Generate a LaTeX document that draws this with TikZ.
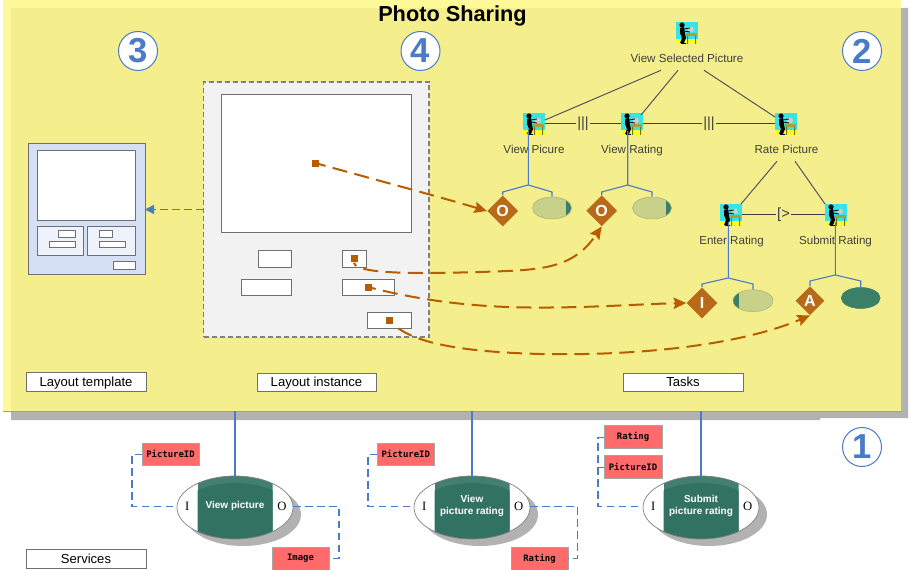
\documentclass[tikz,border=0pt]{standalone}
\usepackage{fontspec}
\setmainfont{Liberation Sans}
\newfontfamily\monof{DejaVu Sans Mono}
\newfontfamily\serf{Liberation Serif}
\usetikzlibrary{shapes.geometric,arrows.meta}
\newdimen\px \px=0.75pt
\definecolor{panellight}{HTML}{FFFA99}
\definecolor{panelc}{HTML}{F4EE8C}
\definecolor{shadowc}{HTML}{B2B2B2}
\definecolor{bluec}{HTML}{4A7BC8}
\definecolor{orangec}{HTML}{B85C00}
\definecolor{diac}{HTML}{B86A18}
\definecolor{greenc}{HTML}{327263}
\definecolor{greenl}{HTML}{437F70}
\definecolor{olivec}{HTML}{C8D18A}
\definecolor{stripc}{HTML}{3A7F68}
\definecolor{redc}{HTML}{FF6B6B}
\definecolor{edgec}{HTML}{707070}
\definecolor{treec}{HTML}{55555F}
\definecolor{tmplc}{HTML}{D5E0F5}
\definecolor{tmplp}{HTML}{EEF3FB}
\definecolor{iconc}{HTML}{35E5E5}
\definecolor{icony}{HTML}{FFFF20}
\definecolor{deskc}{HTML}{A8A040}
\tikzset{
  sizefont/.style={font=\fontsize{#1}{#1}\selectfont},
  wbox/.style={draw=edgec,line width=1\px,fill=white},
  capbox/.style={draw=edgec,line width=1\px,fill=white,text height=8.2pt,text depth=0.8pt,sizefont=9.8},
  redbox/.style={draw=gray!70,line width=.8\px,fill=redc,font=\monof\bfseries\fontsize{6.7}{7}\selectfont},
  numc/.style={circle,draw=bluec,line width=1\px,fill=white,minimum size=39\px,inner sep=0pt,text=bluec,font=\bfseries\fontsize{26}{26}\selectfont},
  tasklab/.style={inner sep=0pt,text=black!75,text height=9\px,text depth=1\px,sizefont=8.7},
  treeline/.style={draw=treec,line width=1\px},
  opline/.style={draw=black!75,line width=1\px},
  oplab/.style={fill=panelc,inner sep=1pt,text=black!75,sizefont=11},
  bline/.style={draw=bluec,line width=1.1\px},
  dia/.style={diamond,aspect=1,fill=diac,text=white,inner sep=0pt,minimum size=31\px,font=\bfseries\fontsize{12}{12}\selectfont},
  oval/.style={ellipse,inner sep=0pt,minimum width=39\px,minimum height=22\px,draw=olivec!85!black,line width=.5\px,fill=olivec},
  dataflow/.style={draw=bluec,line width=1.3\px,dash pattern=on 5.5pt off 3.5pt},
  bind/.style={draw=orangec,line width=2\px,dash pattern=on 11.25pt off 5.6pt,-{Stealth[length=9.5pt,width=8.5pt,inset=1.5pt]}},
  srcsq/.style={fill=orangec,inner sep=0pt,minimum size=7\px},
  svc/.style={ellipse,draw=gray,line width=.7\px,fill=white,inner sep=0pt,minimum width=116\px,minimum height=63\px,
    path picture={
      \begin{scope}
      \clip ([xshift=-37.5\px]path picture bounding box.north) rectangle ([xshift=37.5\px]path picture bounding box.south);
      \fill[greenl] ([xshift=-37.5\px]path picture bounding box.north) rectangle ([xshift=37.5\px]path picture bounding box.south);
      \fill[greenc] ([yshift=-7\px]path picture bounding box.center) ellipse [x radius=58\px,y radius=31.5\px];
      \end{scope}}},
  svctext/.style={text=white,align=center,inner sep=0pt,font=\bfseries\fontsize{7.5}{9}\selectfont},
  iolab/.style={inner sep=0pt,font=\serf\fontsize{9.5}{10}\selectfont},
  iconbox/.style={fill=iconc,inner sep=0pt,minimum size=22\px}
}
\newcommand\bx[7]{%
  \pgfmathsetmacro\bxcx{(#3+#5)/2}\pgfmathsetmacro\bxcy{(#4+#6)/2}%
  \pgfmathsetmacro\bxw{#5-#3}\pgfmathsetmacro\bxh{#6-#4}%
  \node[#1,minimum width=\bxw\px,minimum height=\bxh\px,inner sep=0pt,outer sep=0pt] (#2) at (\bxcx,\bxcy) {#7};}
\newcommand\taskicon[3]{%
  \node[iconbox] (#1) at (#2,#3) {};
  \begin{scope}[shift={(#1.center)}]
    \fill[icony] (-11,6) rectangle (11,11);
    \fill[deskc] (-1,0) rectangle (10,3);
    \fill[deskc!70!black] (0,3) rectangle (1,11) (8,3) rectangle (9,11);
    \fill[gray!40] (4,-3.5) circle (3\px);
    \fill[black] (-5,-8) circle (2.6\px);
    \fill[black] (-7,-5) -- (-3,-6) -- (-2,1) -- (-1,5) -- (-3,10) -- (-7,10) -- (-5,5) -- (-7,0) -- cycle;
    \draw[black,line width=.8\px] (-3,-4) -- (3,-5) (-3,-2) -- (3,-1) (-6,10.5) -- (-1,10.5);
  \end{scope}}
\begin{document}
\begin{tikzpicture}[x=0.75pt,y=-0.75pt]
\useasboundingbox[fill=white] (0,0) rectangle (910,570);
% main panel
\fill[shadowc] (11,8) -- (908,8) -- (908,418) -- (820,418) -- (820,420) -- (11,420) -- cycle;
\bx{fill=panellight}{panelo}{3}{0}{901}{411}{}
\bx{fill=panelc}{panel}{11}{8}{901}{411}{}
\draw[olivec!80!black,line width=.7\px] (panelo.south west) -- (panelo.south east);
\node[inner sep=0pt,font=\bfseries\fontsize{16.3}{17}\selectfont] (title) at (452.5,16) {Photo Sharing};
% numbers
\node[numc] (n3) at (138,51) {3};
\node[numc] (n4) at (420.5,51) {4};
\node[numc] (n2) at (862,51) {2};
\node[numc] (n1) at (862,447) {1};
% layout template
\bx{draw=edgec,line width=1\px,fill=tmplc}{lt}{28}{144}{145}{275}{}
\bx{wbox}{lt1}{37}{151}{135}{221}{}
\bx{draw=edgec,line width=1\px,fill=tmplp}{lt2}{37}{227}{83}{256}{}
\bx{draw=edgec,line width=1\px,fill=tmplp}{lt3}{87}{227}{135}{256}{}
\bx{wbox}{lt4}{58}{231}{75}{237.5}{}
\bx{wbox}{lt5}{49}{242}{75}{248}{}
\bx{wbox}{lt6}{99}{231}{112}{237.5}{}
\bx{wbox}{lt7}{99}{242}{125}{248}{}
\bx{wbox}{lt8}{113}{262}{135}{270}{}
% layout instance
\bx{draw=gray,line width=1.2\px,dash pattern=on 3.75pt off 2.25pt,fill=black!5}{li}{203.5}{82}{429}{337}{}
\bx{wbox}{li1}{221}{95}{411}{233}{}
\bx{wbox}{li2}{258}{251}{291}{268}{}
\bx{wbox}{li3}{241}{279.5}{291}{296}{}
\bx{wbox}{li4}{342}{251}{366}{268}{}
\bx{wbox}{li5}{342}{279.5}{394}{296}{}
\bx{wbox}{li6}{367}{312.5}{411}{328}{}
\draw[draw=bluec,line width=1.3\px,dash pattern=on 5.5pt off 3.5pt,-{Triangle[length=6.75pt,width=6.75pt]}] (li.west |- lt.east) -- (lt.east);
% captions
\bx{capbox}{c1}{26}{372}{146}{391}{Layout template}
\bx{capbox}{c2}{257}{373}{376}{391}{Layout instance}
\bx{capbox}{c3}{623}{373}{743}{391}{Tasks}
\bx{capbox}{c4}{26}{549}{146}{568}{Services}
% task tree
\taskicon{ivs}{687}{33}
\taskicon{ivp}{534}{124}
\taskicon{ivr}{632}{124}
\taskicon{irp}{786}{124}
\taskicon{ier}{731}{215}
\taskicon{isr}{836}{215}
\node[tasklab] (lvs) at (687,59) {View Selected Picture};
\node[tasklab] (lvp) at (534,150) {View Picure};
\node[tasklab] (lvr) at (632,150) {View Rating};
\node[tasklab] (lrp) at (786.5,150) {Rate Picture};
\node[tasklab] (ler) at (731.5,241) {Enter Rating};
\node[tasklab] (lsr) at (835.5,241) {Submit Rating};
\draw[treeline] ([shift={(-26,6)}]lvs.south) -- ([shift={(11,-4)}]ivp.center);
\draw[treeline] ([shift={(-9,6)}]lvs.south) -- ([shift={(9,-9)}]ivr.center);
\draw[treeline] ([shift={(17,6)}]lvs.south) -- ([shift={(-11,-7)}]irp.center);
\draw[treeline] ([shift={(-9.5,6)}]lrp.south) -- ([shift={(10,-11)}]ier.center);
\draw[treeline] ([shift={(8.5,6)}]lrp.south) -- ([shift={(-11,-11)}]isr.center);
\draw[opline] (ivp.east) -- node[oplab] (op1) {|||} (ivr.west);
\draw[opline] (ivr.east) -- node[oplab] (op2) {|||} (irp.west);
\draw[opline] (ier.east) -- node[oplab] (op3) {[>} (isr.west);
% parameters
\node[dia] (dO1) at (502.7,211) {O};
\node[dia] (dO2) at (601.7,210.7) {O};
\node[dia] (dI) at (702,303) {I};
\node[dia,minimum size=29\px] (dA) at (810,300.7) {A};
\node[oval,path picture={\fill[stripc] ([xshift=-6\px]path picture bounding box.north east) rectangle (path picture bounding box.south east);}] (e1) at (552,208) {};
\node[oval,path picture={\fill[stripc] ([xshift=-6\px]path picture bounding box.north east) rectangle (path picture bounding box.south east);}] (e2) at (652,208) {};
\node[oval,minimum width=40\px,path picture={\fill[stripc] (path picture bounding box.north west) rectangle ([xshift=6\px]path picture bounding box.south west);}] (e3) at (753,300.7) {};
\node[oval,fill=stripc,draw=stripc,minimum height=21\px] (e4) at (860.7,298) {};
\coordinate (j1) at (528.3,185); \coordinate (a1) at (502.7,192); \coordinate (b1) at (552,192);
\coordinate (j2) at (627.7,185); \coordinate (a2) at (601.7,192); \coordinate (b2) at (652,192);
\coordinate (j3) at (728.3,278); \coordinate (a3) at (702,284); \coordinate (b3) at (753,284);
\coordinate (j4) at (835.3,275); \coordinate (a4) at (810,281); \coordinate (b4) at (860.7,281);
\draw[bline] ([shift={(-5.7,7)}]ivp.center) -- (j1) (dO1.north) -- (a1) -- (j1) -- (b1) -- (e1.north);
\draw[bline] ([shift={(-4.3,7)}]ivr.center) -- (j2) (dO2.north) -- (a2) -- (j2) -- (b2) -- (e2.north);
\draw[bline] ([shift={(-2.7,7)}]ier.center) -- (j3) (dI.north) -- (a3) -- (j3) -- (b3) -- (e3.north);
\draw[bline] ([shift={(-0.7,7)}]isr.center) -- (j4) (dA.north) -- (a4) -- (j4) -- (b4) -- (e4.north);
% bindings
\node[srcsq] (s1) at (315,164) {};
\node[srcsq] (s2) at (354,259) {};
\node[srcsq] (s3) at (368,288) {};
\node[srcsq] (s4) at (389,320) {};
\draw[bind,dash phase=6pt] (s1.east) .. controls (380,181) and (440,197) .. (dO1.west);
\draw[bind,dash phase=8.25pt] (s2.south) .. controls (356,276) and (440,273) .. (480,272) .. controls (540,270) and (572,270) .. (dO2.south);
\draw[bind,dash phase=8.25pt] (s3.east) .. controls (420,300) and (470,307) .. (530,307.5) .. controls (590,308) and (640,304) .. (dI.west);
\draw[bind,dash phase=11.25pt] (s4.south east) .. controls (415,345) and (470,352) .. (540,354) .. controls (640,356) and (740,345) .. (dA.south);
% services
\fill[shadowc] (243,514.5) ellipse [x radius=58\px,y radius=31.5\px];
\fill[shadowc] (480,514.5) ellipse [x radius=58\px,y radius=31.5\px];
\fill[shadowc] (709,514.5) ellipse [x radius=58\px,y radius=31.5\px];
\node[svc] (S1) at (235,507.5) {};
\node[svc] (S2) at (472,507.5) {};
\node[svc] (S3) at (701,507.5) {};
\node[svctext] (t1) at (235,506) {View picture};
\node[svctext] (t2) at (472,506) {View\\picture rating};
\node[svctext] (t3) at (701,506) {Submit\\picture rating};
\node[iolab] (i1) at (187.3,506) {I};
\node[iolab] (o1) at (282,506) {O};
\node[iolab] (i2) at (424.3,506) {I};
\node[iolab] (o2) at (518.7,506) {O};
\node[iolab] (i3) at (653.3,506) {I};
\node[iolab] (o3) at (747.7,506) {O};
\draw[draw=bluec,line width=1.6\px] (S1.north |- panel.south) -- (S1.north);
\draw[draw=bluec,line width=1.6\px] (S2.north |- panel.south) -- (S2.north);
\draw[draw=bluec,line width=1.6\px] (S3.north |- panel.south) -- (S3.north);
% data
\bx{redbox}{p1}{142}{443}{199}{465.5}{PictureID}
\bx{redbox}{im}{272}{547}{329}{570}{Image}
\bx{redbox}{p2}{377}{443}{434.5}{465.5}{PictureID}
\bx{redbox}{r2}{511}{547}{568}{570}{Rating}
\bx{redbox}{r3}{604}{425.7}{662}{448.7}{Rating}
\bx{redbox}{p3}{604}{455.7}{662}{478.7}{PictureID}
\coordinate (k1) at (132,506.5); \coordinate (k2) at (339,558.5);
\coordinate (k3) at (368,506.5); \coordinate (k4) at (577.5,558.5);
\coordinate (k5) at (598,506.5); \coordinate (k6) at (339,506.5); \coordinate (k7) at (577.5,506.5);
\draw[dataflow] (p1.west) -| (k1) -- (k1 -| S1.west);
\draw[dataflow] (k6 -| S1.east) -- (k6) -- (k2) -- (im.east);
\draw[dataflow] (p2.west) -| (k3) -- (k3 -| S2.west);
\draw[dataflow] (k7 -| S2.east) -- (k7) -- (k4) -- (r2.east);
\draw[dataflow] (r3.west) -| (k5) -- (k5 -| S3.west);
\draw[dataflow] (p3.west) -- (p3.west -| k5);
\end{tikzpicture}
\end{document}
